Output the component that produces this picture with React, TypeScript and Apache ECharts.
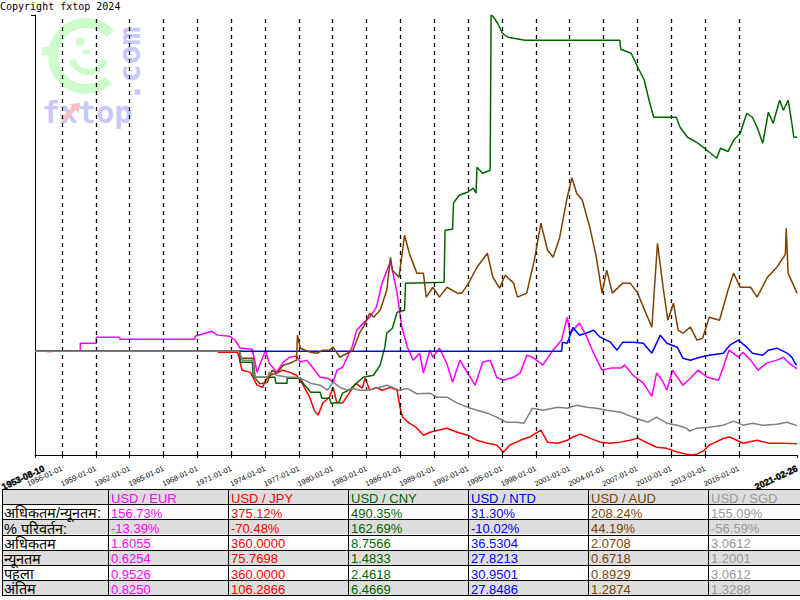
import React, { useEffect, useRef } from 'react';
import * as echarts from 'echarts';

const COPYRIGHT = 'Copyright fxtop 2024';

const pairs = ['USD / EUR', 'USD / JPY', 'USD / CNY', 'USD / NTD', 'USD / AUD', 'USD / SGD'];
const lineColors = ['#ff00ff', '#ff0000', '#006600', '#0000ff', '#804000', '#808080'];
const textColors = ['#ff00ff', '#ff0000', '#006600', '#0000ff', '#804000', '#999999'];

const rowLabels = ['अधिकतम/न्यूनतम:', '% परिवर्तन:', 'अधिकतम', 'न्यूनतम', 'पहला', 'अंतिम'];
const maxMinPct = ['156.73%', '375.12%', '490.35%', '31.30%', '208.24%', '155.09%'];
const changePct = ['-13.39%', '-70.48%', '162.69%', '-10.02%', '44.19%', '-56.59%'];
const maxVals = ['1.6055', '360.0000', '8.7566', '36.5304', '2.0708', '3.0612'];
const minVals = ['0.6254', '75.7698', '1.4833', '27.8213', '0.6718', '1.2001'];
const firstVals = ['0.9526', '360.0000', '2.4618', '30.9501', '0.8929', '3.0612'];
const lastVals = ['0.8250', '106.2866', '6.4669', '27.8486', '1.2874', '1.3288'];

const startLabel = '1953-08-10';
const endLabel = '2021-02-26';
const tickLabels = [
  '1956-01-01', '1959-01-01', '1962-01-01', '1965-01-01', '1968-01-01',
  '1971-01-01', '1974-01-01', '1977-01-01', '1980-01-01', '1983-01-01', '1986-01-01',
  '1989-01-01', '1992-01-01', '1995-01-01', '1998-01-01', '2001-01-01', '2004-01-01',
  '2007-01-01', '2010-01-01', '2013-01-01', '2016-01-01',
];

const eurData: [string, number][] = [
  ['1953-08-10', 0.9526], ['1954-08', 0.9526], ['1954-09', 0.950], ['1955-02', 0.950], ['1955-03', 0.9526],
  ['1957-08', 0.9526], ['1957-08', 1.011], ['1959-01', 1.011], ['1959-01', 1.054], ['1961-02', 1.054],
  ['1961-02', 1.039], ['1967-10', 1.039], ['1967-10', 1.061], ['1969-04', 1.097], ['1969-10', 1.069],
  ['1970-11', 1.061], ['1971-05', 1.030], ['1971-10', 0.975], ['1972-11', 0.967], ['1973-04', 0.800],
  ['1974-01', 0.960], ['1974-05', 0.866], ['1975-01', 0.800], ['1975-08', 0.873], ['1976-03', 0.909],
  ['1976-10', 0.917], ['1977-02', 0.873], ['1977-09', 0.888], ['1978-03', 0.836], ['1978-11', 0.764],
  ['1979-07', 0.757], ['1980-01', 0.728], ['1980-05', 0.815], ['1980-11', 0.836], ['1981-04', 0.909],
  ['1981-09', 0.981], ['1982-02', 1.105], ['1982-09', 1.156], ['1983-04', 1.199], ['1983-11', 1.272],
  ['1984-05', 1.445], ['1985-02', 1.6055], ['1985-09', 1.373], ['1986-02', 1.127], ['1986-08', 0.981],
  ['1987-02', 0.888], ['1987-09', 0.938], ['1988-01', 0.794], ['1988-08', 0.960], ['1988-11', 0.909],
  ['1989-06', 0.975], ['1990-02', 0.860], ['1990-08', 0.728], ['1991-04', 0.888], ['1991-12', 0.794],
  ['1992-08', 0.706], ['1993-04', 0.873], ['1993-12', 0.888], ['1994-07', 0.764], ['1995-02', 0.742],
  ['1995-09', 0.757], ['1996-01', 0.764], ['1996-08', 0.794], ['1997-03', 0.924], ['1997-09', 0.909],
  ['1998-08', 0.852], ['1999-07', 0.960], ['2000-04', 1.033], ['2000-10', 1.199], ['2001-01', 1.083],
  ['2001-11', 1.156], ['2002-07', 1.054], ['2003-02', 0.938], ['2003-11', 0.815], ['2004-08', 0.830],
  ['2005-07', 0.830], ['2005-11', 0.852], ['2006-08', 0.778], ['2007-07', 0.721], ['2008-04', 0.6254],
  ['2008-09', 0.794], ['2009-03', 0.742], ['2009-08', 0.670], ['2010-02', 0.815], ['2011-01', 0.706],
  ['2011-09', 0.757], ['2012-05', 0.815], ['2013-03', 0.764], ['2014-03', 0.742], ['2014-08', 0.836],
  ['2015-02', 0.960], ['2015-12', 0.909], ['2016-05', 0.945], ['2017-01', 0.888], ['2017-09', 0.815],
  ['2018-06', 0.866], ['2019-05', 0.888], ['2019-12', 0.909], ['2020-06', 0.866], ['2021-02-26', 0.8250],
];

const jpyData: [string, number][] = [
  ['1953-08-10', 360], ['1969-10', 360], ['1969-11', 357], ['1971-07', 357], ['1971-09', 343],
  ['1971-12', 308], ['1972-09', 302], ['1973-04', 267], ['1973-10', 261], ['1974-01', 280],
  ['1974-06', 294], ['1975-01', 300], ['1975-07', 308], ['1976-03', 302], ['1976-10', 294],
  ['1977-04', 272], ['1977-12', 234], ['1978-05', 198], ['1978-09', 185], ['1979-02', 218],
  ['1979-09', 234], ['1980-01', 261], ['1980-05', 218], ['1980-11', 218], ['1981-06', 245],
  ['1982-01', 272], ['1982-08', 259], ['1982-11', 286], ['1983-04', 253], ['1983-11', 261],
  ['1984-05', 253], ['1985-02', 261], ['1985-09', 253], ['1985-12', 207], ['1986-03', 179],
  ['1986-10', 163], ['1987-05', 152], ['1988-01', 130], ['1988-08', 138], ['1989-06', 144],
  ['1990-02', 149], ['1991-01', 138], ['1991-12', 130], ['1992-10', 116], ['1993-09', 108],
  ['1994-07', 103], ['1995-02', 83], ['1995-09', 103], ['1996-04', 111], ['1996-08', 116],
  ['1997-06', 125], ['1998-06', 144], ['1999-01', 111], ['1999-12', 108], ['2000-10', 116],
  ['2001-04', 125], ['2001-12', 133], ['2002-10', 122], ['2003-09', 111], ['2004-08', 108],
  ['2005-06', 111], ['2006-05', 116], ['2007-01', 122], ['2007-12', 108], ['2008-09', 97],
  ['2009-08', 94], ['2010-07', 84], ['2011-05', 78], ['2011-10', 75.7698], ['2012-04', 78],
  ['2012-12', 89], ['2013-05', 103], ['2014-08', 121], ['2015-03', 125], ['2016-05', 108],
  ['2017-08', 116], ['2018-09', 108], ['2019-12', 108], ['2021-02-26', 106.2866],
];

const cnyData: [string, number][] = [
  ['1953-08-10', 2.4618], ['1971-10', 2.4618], ['1971-10', 2.256], ['1972-11', 2.256], ['1972-12', 1.975],
  ['1974-11', 1.975], ['1974-12', 1.863], ['1975-12', 1.863], ['1975-12', 1.956], ['1977-02', 1.956],
  ['1977-05', 1.863], ['1978-01', 1.694], ['1978-11', 1.694], ['1979-01', 1.582], ['1979-09', 1.582],
  ['1979-11', 1.4833], ['1980-07', 1.507], ['1980-11', 1.676], ['1981-06', 1.732], ['1982-02', 1.863],
  ['1982-09', 1.975], ['1983-08', 2.012], ['1984-03', 2.200], ['1984-08', 2.537], ['1984-10', 2.799],
  ['1985-04', 2.892], ['1985-09', 3.192], ['1986-05', 3.229], ['1986-06', 3.735], ['1989-11', 3.754],
  ['1989-12', 4.727], ['1990-08', 4.746], ['1990-09', 5.233], ['1991-03', 5.382], ['1991-12', 5.438],
  ['1992-06', 5.513], ['1992-09', 5.420], ['1992-10', 5.906], ['1993-04', 5.794], ['1993-12', 5.850],
  ['1994-01', 8.7566], ['1994-03', 8.733], ['1994-08', 8.602], ['1995-01', 8.415], ['1995-07', 8.340],
  ['1997-01', 8.284], ['2005-06', 8.284], ['2005-07', 8.115], ['2006-06', 8.041], ['2007-01', 7.778],
  ['2007-08', 7.535], ['2008-01', 7.161], ['2008-06', 6.842], ['2010-06', 6.842], ['2010-10', 6.655],
  ['2011-06', 6.468], ['2012-05', 6.356], ['2012-12', 6.262], ['2014-01', 6.075], ['2014-05', 6.262],
  ['2015-01', 6.200], ['2015-07', 6.412], ['2016-02', 6.543], ['2016-09', 6.917], ['2017-03', 6.842],
  ['2017-08', 6.655], ['2018-02', 6.356], ['2018-08', 6.936], ['2019-01', 6.730], ['2019-08', 7.161],
  ['2019-12', 6.973], ['2020-05', 7.161], ['2020-08', 6.842], ['2020-11', 6.468], ['2021-02-26', 6.4669],
];

const ntdData: [string, number][] = [
  ['1953-08-10', 30.9501], ['2000-04', 30.9501], ['2000-05', 33.07], ['2000-10', 32.83], ['2001-04', 36.5304],
  ['2001-11', 34.72], ['2002-06', 35.19], ['2003-02', 35.89], ['2003-09', 34.25], ['2004-08', 33.07],
  ['2005-03', 31.19], ['2005-09', 33.07], ['2006-08', 33.07], ['2007-07', 32.83], ['2008-04', 30.48],
  ['2009-01', 34.72], ['2009-08', 32.83], ['2010-07', 31.89], ['2011-01', 29.30], ['2011-09', 28.80],
  ['2012-07', 29.54], ['2013-05', 30.01], ['2014-08', 30.48], ['2015-03', 32.36], ['2015-12', 33.54],
  ['2016-09', 31.89], ['2017-03', 30.48], ['2018-02', 30.01], ['2018-08', 31.19], ['2019-05', 31.66],
  ['2020-04', 30.48], ['2020-09', 29.50], ['2021-01', 27.8213], ['2021-02-26', 27.8486],
];

const audData: [string, number][] = [
  ['1953-08-10', 0.8929], ['1971-09', 0.8929], ['1971-10', 0.845], ['1972-12', 0.845], ['1973-02', 0.710],
  ['1973-07', 0.6718], ['1974-03', 0.680], ['1974-08', 0.764], ['1975-01', 0.744], ['1975-08', 0.798],
  ['1976-03', 0.811], ['1976-10', 0.832], ['1976-11', 1.002], ['1977-02', 0.913], ['1978-01', 0.886],
  ['1978-08', 0.879], ['1979-02', 0.900], ['1979-09', 0.900], ['1980-01', 0.920], ['1980-08', 0.852],
  ['1981-04', 0.879], ['1981-10', 0.900], ['1982-05', 1.015], ['1982-09', 1.056], ['1983-04', 1.151],
  ['1983-08', 1.124], ['1984-03', 1.171], ['1984-10', 1.307], ['1985-02', 1.531], ['1985-04', 1.443],
  ['1985-11', 1.395], ['1986-05', 1.681], ['1986-10', 1.558], ['1987-06', 1.423], ['1988-01', 1.423],
  ['1988-04', 1.260], ['1988-11', 1.327], ['1989-06', 1.260], ['1990-02', 1.327], ['1991-01', 1.287],
  ['1991-06', 1.287], ['1992-01', 1.355], ['1992-10', 1.463], ['1993-09', 1.558], ['1994-03', 1.395],
  ['1994-10', 1.321], ['1995-04', 1.409], ['1996-01', 1.355], ['1996-05', 1.260], ['1997-03', 1.287],
  ['1997-06', 1.375], ['1997-11', 1.511], ['1998-06', 1.762], ['1999-01', 1.579], ['1999-07', 1.531],
  ['2000-02', 1.667], ['2000-10', 1.939], ['2001-03', 2.0708], ['2001-08', 1.966], ['2002-02', 1.918],
  ['2002-10', 1.735], ['2003-05', 1.531], ['2003-11', 1.287], ['2004-04', 1.443], ['2004-10', 1.287],
  ['2005-09', 1.355], ['2006-05', 1.355], ['2007-01', 1.287], ['2007-07', 1.192], ['2008-04', 1.056],
  ['2008-10', 1.626], ['2009-04', 1.327], ['2009-09', 1.103], ['2010-03', 1.219], ['2010-08', 1.036],
  ['2011-01', 1.015], ['2011-09', 1.056], ['2012-04', 0.968], ['2012-10', 0.981], ['2013-05', 1.124],
  ['2014-04', 1.103], ['2015-01', 1.307], ['2015-07', 1.423], ['2016-02', 1.327], ['2017-01', 1.327],
  ['2017-08', 1.260], ['2018-07', 1.395], ['2019-05', 1.463], ['2020-02', 1.550], ['2020-03', 1.728],
  ['2020-05', 1.423], ['2021-02-26', 1.2874],
];

const sgdData: [string, number][] = [
  ['1953-08-10', 3.0612], ['1971-08', 3.0612], ['1971-10', 3.038], ['1971-12', 2.852], ['1972-12', 2.852],
  ['1973-01', 2.456], ['1974-03', 2.456], ['1974-05', 2.572], ['1975-01', 2.503], ['1976-01', 2.456],
  ['1976-10', 2.456], ['1977-02', 2.433], ['1978-01', 2.316], ['1978-11', 2.270], ['1979-07', 2.153],
  ['1980-01', 2.340], ['1980-08', 2.223], ['1981-04', 2.153], ['1981-10', 2.200], ['1982-05', 2.153],
  ['1983-01', 2.153], ['1983-11', 2.200], ['1984-10', 2.270], ['1985-04', 2.223], ['1985-11', 2.153],
  ['1986-08', 2.190], ['1987-06', 2.070], ['1988-08', 2.084], ['1989-03', 1.990], ['1990-02', 1.990],
  ['1991-01', 1.851], ['1991-12', 1.758], ['1992-10', 1.688], ['1993-09', 1.618], ['1994-07', 1.525],
  ['1995-05', 1.408], ['1996-04', 1.408], ['1996-12', 1.385], ['1997-09', 1.734], ['1998-08', 1.688],
  ['1999-12', 1.758], ['2000-10', 1.734], ['2001-08', 1.804], ['2002-07', 1.758], ['2003-05', 1.734],
  ['2004-04', 1.688], ['2005-07', 1.641], ['2006-08', 1.525], ['2007-12', 1.408], ['2008-09', 1.525],
  ['2009-08', 1.385], ['2010-07', 1.339], ['2011-05', 1.269], ['2011-08', 1.2001], ['2012-04', 1.269],
  ['2013-05', 1.292], ['2014-08', 1.339], ['2015-07', 1.432], ['2016-05', 1.339], ['2017-03', 1.385],
  ['2018-02', 1.339], ['2019-05', 1.362], ['2020-04', 1.408], ['2021-02-26', 1.3288],
];

const allSeries = [eurData, jpyData, cnyData, ntdData, audData, sgdData];

function ts(s: string): number {
  const p = s.split('-').map(Number);
  return Date.UTC(p[0], p[1] - 1, p.length > 2 ? p[2] : 15);
}

const xMin = ts(startLabel);
const xMax = ts(endLabel);
const tickTs = tickLabels.map(ts);
// the bold start-date label sits a little to the right of the axis start
const startLabelPos = xMin + (xMax - xMin) * (9 / 762);

const normalized = allSeries.map((d) => d.map(([t, v]) => [ts(t), v / d[0][1]] as [number, number]));
let yMin = Infinity;
let yMax = -Infinity;
normalized.forEach((s) => s.forEach(([, v]) => { if (v < yMin) yMin = v; if (v > yMax) yMax = v; }));

function buildGraphic(): any[] {
  const els: any[] = [];
  const logoGreen = '#ccfccc';
  const logoBlue = '#c8c8f8';
  els.push({ type: 'arc', z: 0, shape: { cx: 86, cy: 56, r: 33, startAngle: 0.82, endAngle: 5.55, clockwise: true }, style: { stroke: logoGreen, lineWidth: 10, fill: 'none' } });
  els.push({ type: 'rect', z: 0, shape: { x: 42, y: 47, width: 14, height: 8 }, style: { fill: logoGreen } });
  els.push({ type: 'circle', z: 0, shape: { cx: 80, cy: 42, r: 4.5 }, style: { fill: logoGreen } });
  els.push({ type: 'rect', z: 0, shape: { x: 83, y: 50, width: 7, height: 4 }, style: { fill: logoGreen } });
  els.push({ type: 'arc', z: 0, shape: { cx: 88.5, cy: 54.7, r: 17.3, startAngle: 0.31, endAngle: 2.83, clockwise: true }, style: { stroke: logoGreen, lineWidth: 6, fill: 'none' } });
  els.push({ type: 'text', z: 0, x: 42, y: 112, style: { text: 'fxtop', font: 'bold 30px "DejaVu Sans Mono", monospace', fill: logoBlue, align: 'left', verticalAlign: 'middle' } });
  els.push({ type: 'text', z: 0, x: 129, y: 64, rotation: Math.PI / 2, style: { text: '.com', font: 'bold 31px "DejaVu Sans Mono", monospace', fill: logoBlue, align: 'center', verticalAlign: 'middle' } });
  els.push({ type: 'line', z: 1, shape: { x1: 62, y1: 120, x2: 76, y2: 107 }, style: { stroke: '#ffbcbc', lineWidth: 4 } });
  els.push({ type: 'polygon', z: 1, shape: { points: [[80, 103], [70, 104], [79, 113]] }, style: { fill: '#ffbcbc' } });
  els.push({ type: 'text', z: 5, x: 0, y: 1, style: { text: COPYRIGHT, font: '10px "DejaVu Sans Mono", monospace', fill: '#000', align: 'left', verticalAlign: 'top' } });

  const top = 489;
  const rowH = 15.2;
  const colX = [2, 108, 228, 348, 468, 588, 708];
  const right = 830;
  const nRows = 7;
  for (let r = 0; r < nRows; r++) {
    els.push({ type: 'rect', z: 5, shape: { x: 2, y: top + r * rowH, width: right - 2, height: rowH }, style: { fill: r % 2 === 0 ? '#dddddd' : '#ffffff' } });
  }
  for (let r = 0; r <= nRows; r++) {
    const y = Math.round(top + r * rowH) + 0.5;
    els.push({ type: 'line', z: 6, shape: { x1: 2, y1: y, x2: right, y2: y }, style: { stroke: '#000', lineWidth: 1 } });
  }
  colX.forEach((x) => {
    els.push({ type: 'line', z: 6, shape: { x1: x + 0.5, y1: top, x2: x + 0.5, y2: Math.round(top + nRows * rowH) + 0.5 }, style: { stroke: '#000', lineWidth: 1 } });
  });
  const cellFont = '13px "Liberation Sans", Arial, sans-serif';
  const rows = [maxMinPct, changePct, maxVals, minVals, firstVals, lastVals];
  pairs.forEach((p, i) => {
    els.push({ type: 'text', z: 7, x: colX[i + 1] + 3, y: top + rowH / 2 + 1.5, style: { text: p, font: cellFont, fill: textColors[i], align: 'left', verticalAlign: 'middle' } });
  });
  rowLabels.forEach((lab, r) => {
    const cy = top + (r + 1) * rowH + rowH / 2 + 1.5;
    els.push({ type: 'text', z: 7, x: 4, y: cy, style: { text: lab, font: '14.5px sans-serif', fill: '#000', align: 'left', verticalAlign: 'middle', lineHeight: 14 } });
    rows[r].forEach((v, i) => {
      els.push({ type: 'text', z: 7, x: colX[i + 1] + 3, y: cy, style: { text: v, font: cellFont, fill: textColors[i], align: 'left', verticalAlign: 'middle' } });
    });
  });
  return els;
}

function nearestLabel(value: number, positions: number[], labels: string[]): string {
  let best = 0;
  let bd = Infinity;
  positions.forEach((t, i) => { const d = Math.abs(t - value); if (d < bd) { bd = d; best = i; } });
  return labels[best];
}

export default function App() {
  const ref = useRef<HTMLDivElement>(null);
  useEffect(() => {
    if (!ref.current) return;
    const chart = echarts.init(ref.current, null, { renderer: 'svg' });
    const series: any[] = normalized.map((data, i) => ({
      name: pairs[i],
      type: 'line',
      data,
      showSymbol: false,
      symbol: 'none',
      lineStyle: { color: lineColors[i], width: 1.5 },
      itemStyle: { color: lineColors[i] },
      z: 3 + i,
    }));
    series[0].markLine = {
      silent: true,
      symbol: ['none', 'none'],
      label: { show: false },
      lineStyle: { color: '#000', type: [4, 4], width: 1.3 },
      data: tickTs.map((t) => ({ xAxis: t })),
    };
    const labelFont = '"Liberation Sans", Arial, sans-serif';
    chart.setOption({
      animation: false,
      backgroundColor: '#ffffff',
      grid: { left: 35, right: 3, top: 15, bottom: 145, containLabel: false, outerBoundsMode: 'none' },
      xAxis: [
        {
          type: 'value',
          min: xMin,
          max: xMax,
          splitLine: { show: false },
          axisLine: { show: true, onZero: false, lineStyle: { color: '#000', width: 1 } },
          axisTick: { show: true, customValues: [xMin, ...tickTs, xMax], length: 3, lineStyle: { color: '#000' } },
          axisLabel: {
            show: true,
            customValues: tickTs,
            showMinLabel: true,
            showMaxLabel: true,
            rotate: 25,
            margin: 13,
            fontSize: 7.5,
            fontFamily: labelFont,
            color: '#000',
            formatter: (v: number) => nearestLabel(v, tickTs, tickLabels),
          },
        },
        {
          type: 'value',
          position: 'bottom',
          min: xMin,
          max: xMax,
          splitLine: { show: false },
          axisLine: { show: false, onZero: false },
          axisTick: { show: false },
          axisLabel: {
            show: true,
            customValues: [startLabelPos, xMax],
            showMinLabel: true,
            showMaxLabel: true,
            rotate: 25,
            margin: 13,
            fontSize: 9,
            fontWeight: 'bold',
            fontFamily: labelFont,
            color: '#000',
            textBorderColor: '#000',
            textBorderWidth: 0.4,
            formatter: (v: number) => nearestLabel(v, [startLabelPos, xMax], [startLabel, endLabel]),
          },
        },
      ],
      yAxis: {
        type: 'value',
        min: yMin,
        max: yMax,
        splitLine: { show: false },
        axisLine: { show: true, onZero: false, lineStyle: { color: '#000', width: 1 } },
        axisTick: { show: true, customValues: [yMax], length: 4, lineStyle: { color: '#000' } },
        axisLabel: { show: false },
      },
      graphic: buildGraphic(),
      series,
    });
    return () => chart.dispose();
  }, []);
  return <div ref={ref} style={{ position: 'absolute', left: 0, top: 0, width: 800, height: 600, background: '#fff' }} />;
}
